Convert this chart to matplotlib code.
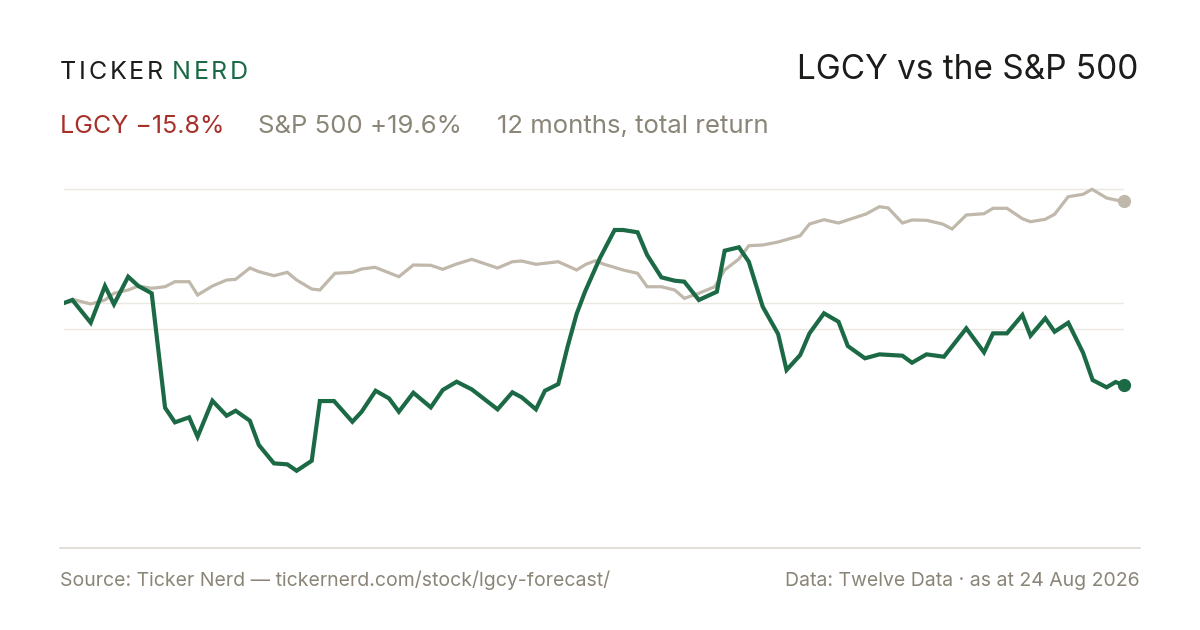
import matplotlib
matplotlib.use('Agg')
import matplotlib.pyplot as plt
from matplotlib.lines import Line2D

plt.rcParams['font.family'] = ['Inter', 'DejaVu Sans']

# day of the 12-month window, and total return in %
days_lgcy = [0, 2.9, 9.2, 14.1, 17.2, 22.1, 25.6, 30.2, 34.8, 38.2, 43.1, 46.0, 51.1, 56.0,
             59.1, 64.0, 67.1, 72.3, 76.9, 80.1, 85.3, 88.1, 93.0, 99.3, 102.5, 107.3,
             111.9, 115.3, 120.3, 126.3, 130.4, 135.2, 140.4, 149.3, 154.4, 157.6, 162.5,
             165.6, 170.2, 173.4, 176.5, 179.4, 184.5, 189.6, 192.5, 197.5, 200.8, 205.7,
             210.3, 213.6, 218.6, 224.8, 227.5, 232.4, 235.8, 240.6, 245.9, 248.8, 253.5,
             256.7, 261.7, 266.7, 269.9, 275.8, 280.8, 288.7, 292.0, 297.0, 303.0, 310.7,
             316.8, 319.9, 324.7, 330.0, 332.8, 337.9, 341.1, 345.8, 350.9, 354.2, 359.0,
             362.1, 365]
ret_lgcy = [0.0, 0.58, -3.79, 3.27, -0.25, 5.06, 3.27, 1.87, -20.13, -22.94, -21.98, -25.71,
            -18.79, -21.67, -20.71, -22.63, -27.31, -30.83, -31.02, -32.25, -30.33, -18.85,
            -18.85, -22.83, -20.90, -16.87, -18.33, -20.90, -17.25, -20.06, -16.73, -15.13,
            -16.60, -20.44, -17.17, -18.13, -20.44, -16.87, -15.58, -8.40, -2.12, 2.17, 8.60,
            14.04, 14.04, 13.60, 9.23, 4.94, 4.29, 4.10, 0.58, 2.17, 10.06, 10.71, 7.94,
            -0.71, -5.96, -12.88, -10.0, -5.83, -1.98, -3.60, -8.27, -10.63, -9.87, -10.13,
            -11.48, -9.87, -10.33, -4.87, -9.48, -5.83, -5.83, -2.31, -6.29, -2.94, -5.52,
            -3.79, -9.56, -14.81, -16.21, -15.19, -15.8]

days_spx = [0, 2.9, 9.2, 14.1, 17.2, 22.1, 25.6, 30.2, 34.8, 38.2, 43.1, 46.0, 51.1, 56.0,
            59.1, 64.0, 67.1, 72.3, 76.9, 80.1, 85.3, 88.1, 93.3, 99.3, 102.5, 107.1, 115.3,
            120.3, 126.3, 130.4, 135.2, 140.4, 149.3, 154.4, 157.6, 162.5, 170.2, 176.5,
            179.7, 183.0, 185.7, 192.5, 197.5, 200.8, 205.7, 210.3, 213.6, 218.6, 224.1,
            227.5, 232.4, 235.8, 240.6, 245.9, 253.5, 256.7, 261.7, 266.7, 276.2, 280.8,
            283.8, 288.7, 292.0, 297.0, 302.5, 305.8, 310.7, 316.8, 319.9, 324.7, 330.0,
            332.8, 337.9, 341.1, 345.8, 350.9, 354.0, 359.0, 362.1, 365]
ret_spx = [0.0, 0.71, -0.19, 0.58, 1.87, 2.5, 3.27, 2.83, 3.13, 4.10, 4.10, 1.54, 3.27, 4.42,
           4.56, 6.73, 6.02, 5.25, 5.90, 4.42, 2.69, 2.50, 5.71, 5.90, 6.54, 6.87, 5.06, 7.31,
           7.25, 6.48, 7.50, 8.40, 6.73, 7.94, 8.08, 7.44, 7.94, 6.35, 7.44, 8.13, 7.50,
           6.35, 5.71, 3.13, 3.13, 2.50, 0.90, 1.87, 3.13, 6.35, 8.46, 11.02, 11.15, 11.73,
           12.94, 15.19, 16.02, 15.38, 17.12, 18.52, 18.27, 15.38, 15.96, 15.90, 15.19,
           14.23, 16.92, 17.17, 18.21, 18.21, 16.21, 15.63, 16.10, 17.06, 20.44, 20.90,
           21.87, 20.19, 19.81, 19.6]

grid_levels = [21.9, 0, -5]

GREEN = '#1b6a45'
SPX = '#bfb8ab'
MUTED = '#8a8577'
RED = '#a8302a'
INK = '#1c1c1a'

W, H = 1200, 630
fig = plt.figure(figsize=(12, 6.3), dpi=100)
fig.patch.set_facecolor('white')


def fx(px):
    return px / W


def fy(px):
    return 1 - px / H


ax = fig.add_axes([fx(64), fy(548), 1060 / W, 368 / H])
ax.set_xlim(0, 365)
ax.set_ylim(-47.1, 23.65)
ax.axis('off')

for g in grid_levels:
    ax.axhline(g, color='#ebe8e1', lw=1.0, zorder=0)

ax.plot(days_spx, ret_spx, color=SPX, lw=2.3, solid_joinstyle='miter', zorder=2)
ax.plot(days_lgcy, ret_lgcy, color=GREEN, lw=3.0, solid_joinstyle='miter', zorder=3)
ax.plot(days_spx[-1], ret_spx[-1], 'o', ms=8.5, color=SPX, clip_on=False, zorder=4)
ax.plot(days_lgcy[-1], ret_lgcy[-1], 'o', ms=8.5, color=GREEN, clip_on=False, zorder=4)

# footer rule
fig.add_artist(Line2D([fx(60), fx(1140)], [fy(548), fy(548)], color='#dcd8cd', lw=1.2))

# brand, spaced out letter by letter
renderer = fig.canvas.get_renderer()
x = 60
for word, col in [('TICKER', INK), ('NERD', GREEN)]:
    for ch in word:
        t = fig.text(fx(x), fy(79), ch, fontsize=18, color=col, va='baseline')
        x += t.get_window_extent(renderer).width + 2.7
    x += 6

fig.text(fx(1138), fy(79), 'LGCY vs the S&P 500', fontsize=24, color=INK,
         ha='right', va='baseline')

fig.text(fx(60), fy(133), 'LGCY \u221215.8%', fontsize=18, color=RED, va='baseline')
fig.text(fx(258), fy(133), 'S&P 500 +19.6%', fontsize=18.5, color=MUTED, va='baseline')
fig.text(fx(497), fy(133), '12 months, total return', fontsize=18.5, color=MUTED,
         va='baseline')

fig.text(fx(60), fy(586), 'Source: Ticker Nerd \u2014 tickernerd.com/stock/lgcy-forecast/',
         fontsize=14, color=MUTED, va='baseline')
fig.text(fx(1140), fy(586), 'Data: Twelve Data \u00b7 as at 24 Aug 2026',
         fontsize=14, color=MUTED, ha='right', va='baseline')

fig.savefig('out.png', dpi=100, facecolor='white')
